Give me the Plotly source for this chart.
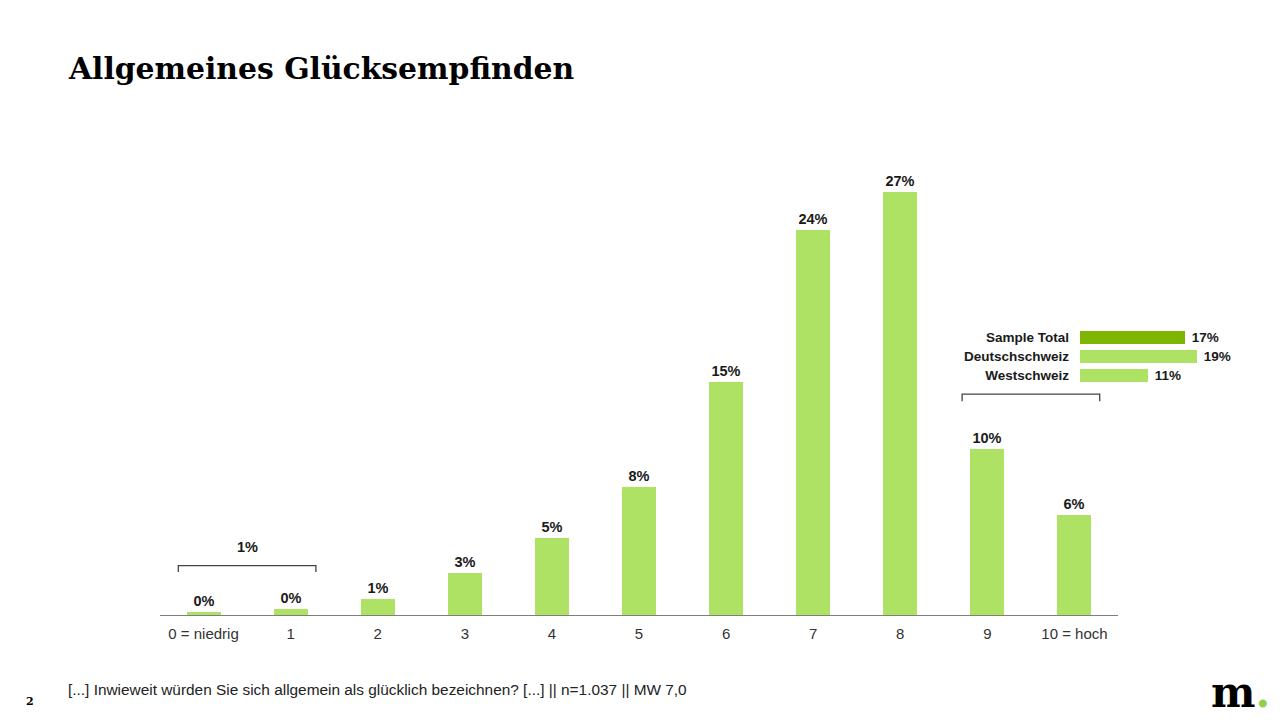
import plotly.graph_objects as go

# ---- data ----
categories = ["0 = niedrig", "1", "2", "3", "4", "5", "6", "7", "8", "9", "10 = hoch"]
values = [0.2, 0.4, 1.0, 2.7, 4.9, 8.2, 14.9, 24.6, 27.0, 10.6, 6.4]
value_labels = ["0%", "0%", "1%", "3%", "5%", "8%", "15%", "24%", "27%", "10%", "6%"]

low_group_label = "1%"          # sum of categories 0 and 1

inset_groups = ["Sample Total", "Deutschschweiz", "Westschweiz"]
inset_values = [17, 19, 11]
inset_labels = ["17%", "19%", "11%"]

title_text = "Allgemeines Glücksempfinden"
footnote = "[...] Inwieweit würden Sie sich allgemein als glücklich bezeichnen? [...] || n=1.037 || MW 7,0"
page_no = "2"

# ---- style ----
LIGHT = "#aee265"
DARK = "#7db500"
W, H = 1280, 720

def px_x(p):
    return p / W

def px_y(p):
    return 1 - p / H

fig = go.Figure()

fig.add_trace(go.Bar(
    x=list(range(len(categories))), y=values,
    text=value_labels, textposition="outside",
    textfont=dict(family="Liberation Sans, Arial", size=14.5, color="#1a1a1a", weight="bold"),
    marker=dict(color=LIGHT, line=dict(width=0)),
    width=0.39, cliponaxis=False, hoverinfo="skip",
    xaxis="x", yaxis="y",
))

fig.add_trace(go.Bar(
    y=inset_groups, x=inset_values, orientation="h",
    text=inset_labels, texttemplate=" %{text}", textposition="outside",
    constraintext="none",
    textfont=dict(family="Liberation Sans, Arial", size=13.5, color="#1a1a1a", weight="bold"),
    marker=dict(color=[DARK, LIGHT, LIGHT], line=dict(width=0)),
    width=0.68, cliponaxis=False, hoverinfo="skip",
    xaxis="x2", yaxis="y2",
))

# brackets (data coordinates relative to categories)
def bracket(c0, c1, ytop, ydrop, pad=0.29):
    x0, x1 = c0 - pad, c1 + pad
    return dict(type="path", xref="x", yref="y",
                path=f"M {x0},{ytop-ydrop} L {x0},{ytop} L {x1},{ytop} L {x1},{ytop-ydrop}",
                line=dict(color="#444", width=1.3))

low_top = max(values[0], values[1]) + 2.75
high_top = max(values[9], values[10]) + 3.5
shapes = [bracket(0, 1, low_top, 0.4), bracket(9, 10, high_top, 0.45)]

annotations = [
    dict(x=0.5, y=low_top + 1.2, xref="x", yref="y", text=low_group_label, showarrow=False,
         font=dict(family="Liberation Sans, Arial", size=14.5, color="#1a1a1a", weight="bold")),
    dict(x=px_x(66), y=px_y(68), xref="paper", yref="paper", xanchor="left", yanchor="middle",
         text=f"<b>{title_text}</b>", showarrow=False,
         font=dict(family="DejaVu Serif, Georgia, serif", size=29.8, color="#000")),
    dict(x=px_x(66), y=px_y(689), xref="paper", yref="paper", xanchor="left", yanchor="middle",
         text=footnote, showarrow=False,
         font=dict(family="Liberation Sans Narrow, Liberation Sans, Arial", size=15.4, color="#222")),
    dict(x=px_x(30), y=px_y(701), xref="paper", yref="paper", xanchor="center", yanchor="middle",
         text=f"<b>{page_no}</b>", showarrow=False,
         font=dict(family="DejaVu Serif, serif", size=11, color="#000")),
    dict(x=px_x(1209), y=px_y(692), xref="paper", yref="paper", xanchor="left", yanchor="middle",
         text="<b>m</b><span style='color:#8fd14f'><b>.</b></span>", showarrow=False,
         font=dict(family="DejaVu Serif, serif", size=42, color="#000")),
]

fig.update_layout(
    width=W, height=H, margin=dict(l=0, r=0, t=0, b=0),
    paper_bgcolor="white", plot_bgcolor="white",
    showlegend=False, bargap=0,
    shapes=shapes, annotations=annotations,
    xaxis=dict(domain=[px_x(160), px_x(1118)], range=[-0.5, 10.5],
               tickmode="array", tickvals=list(range(len(categories))), ticktext=categories,
               showgrid=False, zeroline=False, showline=True, linecolor="#7f7f7f", linewidth=1.3,
               ticks="", tickfont=dict(family="Liberation Sans, Arial", size=15, color="#333"),
               ticklabelstandoff=5, fixedrange=True),
    yaxis=dict(domain=[px_y(615), px_y(145)], range=[0, 30], visible=False, fixedrange=True),
    xaxis2=dict(domain=[px_x(1080), px_x(1203)], range=[0, 20], visible=False,
                anchor="y2", fixedrange=True),
    yaxis2=dict(domain=[px_y(384.5), px_y(327.5)], range=[2.5, -0.5], anchor="x2",
                showgrid=False, zeroline=False, showline=False, ticks="",
                tickfont=dict(family="Liberation Sans, Arial", size=13.5, color="#1a1a1a", weight="bold"),
                ticklabelstandoff=10, fixedrange=True),
)

fig.write_html("out.html", config={"displayModeBar": False},
               post_script="document.body.style.margin='0';document.body.style.overflow='hidden';")
